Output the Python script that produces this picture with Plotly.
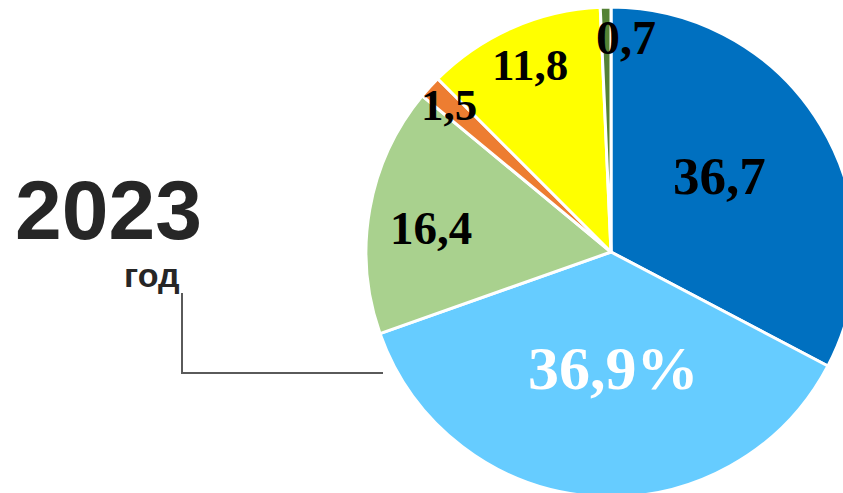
import plotly.graph_objects as go

# Data (clockwise from 12 o'clock)
categories = ["Сегмент 1", "Сегмент 2", "Сегмент 3", "Сегмент 4", "Сегмент 5", "Сегмент 6"]
slice_values = [32.7, 36.9, 16.4, 1.5, 11.8, 0.7]          # slice sizes as drawn
label_texts = ["36,7", "36,9%", "16,4", "1,5", "11,8", "0,7"]  # printed labels
colors = ["#0070C0", "#66CCFF", "#A9D18E", "#ED7D31", "#FFFF00", "#548235"]
year_text = "2023"
year_sub = "год"

W, H = 880, 520

def px(x):
    return x / W

def py(y):
    return 1 - y / H

fig = go.Figure()
fig.add_trace(go.Pie(
    labels=categories,
    values=slice_values,
    sort=False,
    direction="clockwise",
    rotation=0,
    marker=dict(colors=colors, line=dict(color="white", width=3)),
    textinfo="none",
    hoverinfo="label+value",
    showlegend=False,
    domain=dict(x=[px(366), px(856)], y=[py(497), py(7)]),
))

# label positions (pixel centres) and font sizes
label_pos = [(719.5, 176, 53, "black"), (613, 368, 62, "white"), (431, 228, 47, "black"),
             (449, 105, 45, "black"), (530, 65, 45, "black"), (626, 38, 48, "black")]

annotations = []
for t, (x, y, s, c) in zip(label_texts, label_pos):
    annotations.append(dict(
        x=px(x), y=py(y), xref="paper", yref="paper", text=t, showarrow=False,
        xanchor="center", yanchor="middle",
        font=dict(family="Liberation Serif", size=s, color=c, weight="bold"),
    ))

annotations.append(dict(
    x=px(108.5), y=py(210), xref="paper", yref="paper", text=year_text, showarrow=False,
    xanchor="center", yanchor="middle",
    font=dict(family="Liberation Sans", size=84, color="#262626", weight="bold"),
))
annotations.append(dict(
    x=px(151.5), y=py(275), xref="paper", yref="paper", text=year_sub, showarrow=False,
    xanchor="center", yanchor="middle",
    font=dict(family="Liberation Sans", size=34, color="#262626", weight="bold"),
))

shapes = [
    dict(type="path", xref="paper", yref="paper",
         path=f"M {px(182)},{py(293)} L {px(182)},{py(373)} L {px(383)},{py(373)}",
         line=dict(color="#5A5A5A", width=2)),
]

fig.update_layout(
    width=W, height=H,
    margin=dict(l=0, r=0, t=0, b=0),
    paper_bgcolor="white", plot_bgcolor="white",
    annotations=annotations,
    shapes=shapes,
)

fig.write_html(
    "out.html",
    config={"displayModeBar": False},
    post_script="document.body.style.margin='0px';document.body.style.overflow='hidden';",
)
